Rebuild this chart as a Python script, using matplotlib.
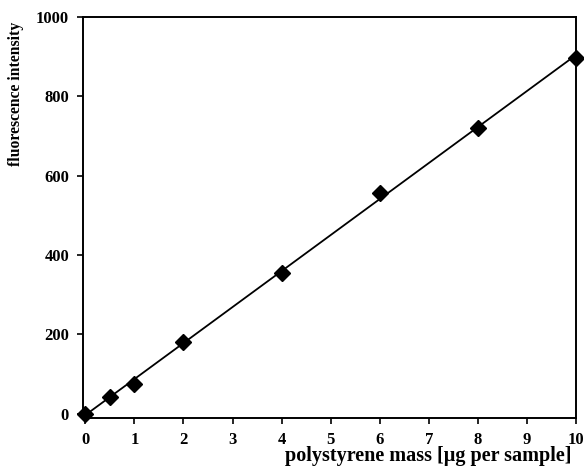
import numpy as np
import matplotlib
matplotlib.use("Agg")
import matplotlib.pyplot as plt

mass = [0, 0.5, 1, 2, 4, 6, 8, 10]
intensity = [0, 43, 76, 182, 356, 557, 721, 897]
x_ticks = [0, 1, 2, 3, 4, 5, 6, 7, 8, 9, 10]
y_ticks = [0, 200, 400, 600, 800, 1000]

plt.rcParams['font.family'] = ['Liberation Serif', 'DejaVu Serif']
plt.rcParams['font.weight'] = 'bold'

fig = plt.figure(figsize=(5.84, 4.70), dpi=100)
ax = fig.add_axes([0.142, 0.111, 0.844, 0.853])

slope, intercept = np.polyfit(mass, intensity, 1)
fx = np.array([mass[0], mass[-1]])
ax.plot(fx, slope * fx + intercept, color='black', lw=1.3, zorder=2)
ax.plot(mass, intensity, linestyle='none', marker='D', markersize=8.5,
        color='black', zorder=3, clip_on=False)

ax.set_xlim(-0.05, 10)
ax.set_ylim(-10, 1000)
ax.set_xticks(x_ticks)
ax.set_yticks(y_ticks)
ax.set_xticklabels([str(t) for t in x_ticks], fontsize=12, fontweight='bold')
ax.set_yticklabels([str(t) for t in y_ticks], fontsize=12, fontweight='bold')
ax.tick_params(direction='out', length=4, width=1.2, pad=6)
for s in ax.spines.values():
    s.set_linewidth(1.4)

fig.text(0.027, 0.80, 'fluorescence intensity', rotation=90, ha='center', va='center',
         fontsize=11.3, fontweight='bold')
fig.text(0.978, 0.029, 'polystyrene mass [µg per sample]', ha='right', va='center',
         fontsize=14.5, fontweight='bold')

fig.savefig('out.png', dpi=100)
